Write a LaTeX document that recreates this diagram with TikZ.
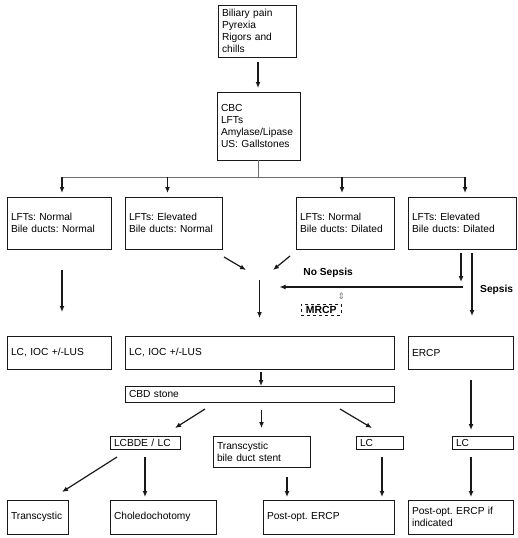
\documentclass[tikz,border=0pt]{standalone}
\usepackage{fontspec}
\setmainfont{Liberation Sans}
\newfontfamily\symfont{DejaVu Sans}
\usetikzlibrary{arrows.meta,positioning,calc}
\frenchspacing
\definecolor{boxdraw}{RGB}{25,25,25}
\definecolor{fangray}{RGB}{110,110,110}
\tikzset{
 flowbox/.style={
 rectangle,
 draw=boxdraw,
 line width=1pt,
 align=left,
 inner xsep=4pt,
 inner ysep=1.5pt,
 outer sep=0pt,
 font=\fontsize{10.2}{12.2}\selectfont
 },
 mrcpbox/.style={
 rectangle,
 draw=boxdraw,
 dashed,
 line width=0.5pt,
 inner xsep=2pt,
 inner ysep=0.5pt,
 outer sep=0pt,
 font=\fontsize{10.4}{11}\selectfont\bfseries
 },
 branchlabel/.style={inner sep=0pt, font=\fontsize{10.2}{12.2}\selectfont\bfseries},
 flowarrow/.style={-{Latex[length=6pt,width=5pt]}, line width=1.2pt, draw=boxdraw},
 fanline/.style={line width=0.9pt, draw=fangray}
}

\begin{document}
\begin{tikzpicture}
	\useasboundingbox (0,0) rectangle (518pt,-538pt);

	\node[flowbox, text width=70pt, minimum height=52pt, anchor=north west] (symptoms) at (218pt,-5pt) {Biliary pain\\Pyrexia\\Rigors and\\chills};
	\node[flowbox, text width=75pt, minimum height=68pt, below=35pt of symptoms.south west, xshift=-1pt, anchor=north west] (workup) {CBC\\LFTs\\Amylase/Lipase\\US: Gallstones};

	% four presentations
	\node[flowbox, text width=96pt, minimum height=52pt, below left=37pt and 210pt of workup.south west, anchor=north west] (lftNormal) {LFTs: Normal\\Bile ducts: Normal};
	\node[flowbox, text width=89pt, minimum height=52pt, right=14pt of lftNormal.north east, anchor=north west] (lftElev) {LFTs: Elevated\\Bile ducts: Normal};
	\node[flowbox, text width=90pt, minimum height=52pt, right=74pt of lftElev.north east, anchor=north west] (lftNormDil) {LFTs: Normal\\Bile ducts: Dilated};
	\node[flowbox, text width=100pt, minimum height=52pt, right=14pt of lftNormDil.north east, anchor=north west] (lftElevDil) {LFTs: Elevated\\Bile ducts: Dilated};

	% first procedures
	\node[flowbox, text width=96pt, minimum height=33pt, below=87pt of lftNormal.south west, anchor=north west] (lcOne) {LC, IOC +/-LUS};
	\node[flowbox, text width=261pt, minimum height=33pt, below=87pt of lftElev.south west, anchor=north west] (lcBig) {LC, IOC +/-LUS};
	\node[flowbox, text width=97pt, minimum height=33pt, below=87pt of lftElevDil.south west, anchor=north west] (ercp) {ERCP};
	\node[flowbox, text width=261pt, minimum height=16pt, below=17pt of lcBig.south west, anchor=north west] (cbd) {CBD stone};

	% options
	\node[flowbox, text width=62pt, minimum height=13pt, below left=34pt and 15pt of cbd.south west, anchor=north west] (lcbde) {LCBDE / LC};
	\node[flowbox, text width=89pt, minimum height=31pt, right=33pt of lcbde.north east, anchor=north west] (stent) {Transcystic\\bile duct stent};
	\node[flowbox, text width=39pt, minimum height=13pt, right=46pt of stent.north east, anchor=north west] (lcTwo) {LC};
	\node[flowbox, text width=53pt, minimum height=13pt, right=49pt of lcTwo.north east, anchor=north west] (lcThree) {LC};

	% outcomes
	\node[flowbox, text width=53pt, minimum height=34pt, below=131pt of lcOne.south west, anchor=north west] (transcystic) {Transcystic};
	\node[flowbox, text width=98pt, minimum height=34pt, below=51pt of lcbde.south west, anchor=north west] (chol) {Choledochotomy};
	\node[flowbox, text width=123pt, minimum height=34pt, right=47pt of chol.north east, anchor=north west] (postErcp) {Post-opt. ERCP};
	\node[flowbox, text width=97pt, minimum height=34pt, below=131pt of ercp.south west, anchor=north west] (postIf) {Post-opt. ERCP if\\indicated};

	% branch points
	\coordinate[below=17pt of workup.south] (fan);
	\coordinate[above=56pt of lcBig.north] (merge);
	\coordinate[below=38pt of lftElevDil.south, xshift=1pt] (nosep);

	\node[branchlabel, above left=9pt and 110pt of nosep] (nosepLbl) {No Sepsis};
	\node[mrcpbox, minimum width=40pt, minimum height=11pt, below=26pt of nosepLbl.south west, xshift=-2pt, anchor=north west] (mrcp) {MRCP};
	\node[inner sep=0pt, text=black!50, font=\symfont\fontsize{9}{9}\selectfont, above=4pt of mrcp.north east] (swap) {⇕};
	\node[branchlabel, below right=36pt and 18pt of lftElevDil.south, anchor=north west] (sepsisLbl) {Sepsis};

	\draw[flowarrow, shorten <=5pt, shorten >=4pt] ([xshift=1pt]symptoms.south) -- ++(0,-35pt);
	\draw[fanline] (workup.south) -- (fan);
	\draw[fanline] ($(fan -| lftNormal.north)+(3pt,0)$) -- ($(fan -| lftElevDil.north)+(3pt,0)$);
	\foreach \target/\dx in {lftNormal/3pt, lftElev/-6pt, lftNormDil/-3pt, lftElevDil/3pt}
		\draw[flowarrow] ($(fan -| \target.north)+(\dx,0)$) -- ($(\target.north)+(\dx,4pt)$);

	\draw[flowarrow, shorten <=21pt, shorten >=24pt] ([xshift=3pt]lftNormal.south) -- ([xshift=3pt]lcOne.north);
	\draw[flowarrow] ([shift={(2pt,-8pt)}]lftElev.south east) -- ++(22pt,-13pt);
	\draw[flowarrow] ([shift={(-6pt,-7pt)}]lftNormDil.south west) -- ++(-17pt,-14pt);
	\draw[flowarrow, shorten >=18pt] (merge) -- (lcBig.north);
	\draw[flowarrow, shorten <=4pt] ([xshift=-1pt]lftElevDil.south) -- ++(0,-33pt);
	\draw[flowarrow, shorten >=20pt] (nosep) -- (nosep -| merge);
	\draw[flowarrow, shorten <=4pt, shorten >=20pt] ([xshift=10pt]lftElevDil.south) -- ++(0,-87pt);

	\draw[flowarrow, shorten <=3pt] ([xshift=1.5pt]lcBig.south) -- ([xshift=1.5pt]cbd.north);
	\draw[flowarrow, shorten <=11pt, shorten >=6pt] ([xshift=10.5pt]ercp.south) -- ++(0,-67pt);
	\draw[flowarrow] ([shift={(80pt,-7pt)}]cbd.south west) -- ++(-30pt,-19pt);
	\draw[flowarrow, shorten <=8pt, shorten >=8pt] (cbd.south -| stent.north) -- (stent.north);
	\draw[flowarrow] ([shift={(-54pt,-7pt)}]cbd.south east) -- ++(32pt,-19pt);

	\draw[flowarrow] ([shift={(7pt,-8pt)}]lcbde.south west) -- ++(-55pt,-35pt);
	\draw[flowarrow, shorten <=8pt, shorten >=3pt] (lcbde.south) -- (lcbde.south |- chol.north);
	\draw[flowarrow, shorten <=10pt, shorten >=3pt] ([xshift=25.5pt]stent.south) -- ++(0,-33pt);
	\draw[flowarrow, shorten <=8pt, shorten >=3pt] ([xshift=2.5pt]lcTwo.south) -- ++(0,-51pt);
	\draw[flowarrow, shorten <=8pt, shorten >=3pt] ([xshift=-11.5pt]lcThree.south) -- ([xshift=10.5pt]postIf.north);
\end{tikzpicture}
\end{document}
